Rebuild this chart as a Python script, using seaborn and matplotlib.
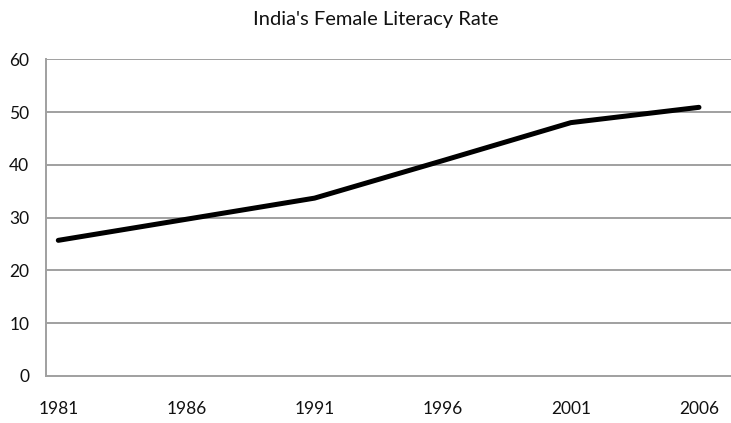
import matplotlib
matplotlib.use('Agg')
import matplotlib.pyplot as plt
import seaborn as sns
import pandas as pd

years = [1981, 1986, 1991, 1996, 2001, 2006]
literacy = [25.7, 29.7, 33.7, 40.8, 48.0, 50.9]
y_ticks = [0, 10, 20, 30, 40, 50, 60]

sns.set_style('white')
plt.rcParams['font.family'] = ['Lato', 'DejaVu Sans']

df = pd.DataFrame({'year': years, 'rate': literacy})

fig = plt.figure(figsize=(7.31, 4.23), dpi=100)
ax = fig.add_axes([46 / 731, 1 - 376 / 423, 1 - 46 / 731, (376 - 59.3) / 423])

grid_color = '#a0a0a0'
for v in y_ticks[1:]:
    ax.axhline(v, color=grid_color, lw=1.4, zorder=1)

sns.lineplot(data=df, x='year', y='rate', color='black', lw=3.6, ax=ax,
             solid_capstyle='round', zorder=3)

ax.set_xlim(1980.52, 2007.25)
ax.set_ylim(0, 60)
ax.set_xticks(years)
ax.set_yticks(y_ticks)
ax.tick_params(axis='both', length=0, labelsize=12.5, colors='#111111')
ax.tick_params(axis='y', pad=12)
ax.tick_params(axis='x', pad=18)
ax.set_xlabel('')
ax.set_ylabel('')

for s in ['top', 'right']:
    ax.spines[s].set_visible(False)
for s in ['left', 'bottom']:
    ax.spines[s].set_color(grid_color)
    ax.spines[s].set_linewidth(1.4)

fig.text(376 / 731, 1 - 20 / 423, "India's Female Literacy Rate", ha='center', va='center',
         fontsize=14.5, color='#111111')

fig.savefig('out.png', dpi=100)
plt.close(fig)
